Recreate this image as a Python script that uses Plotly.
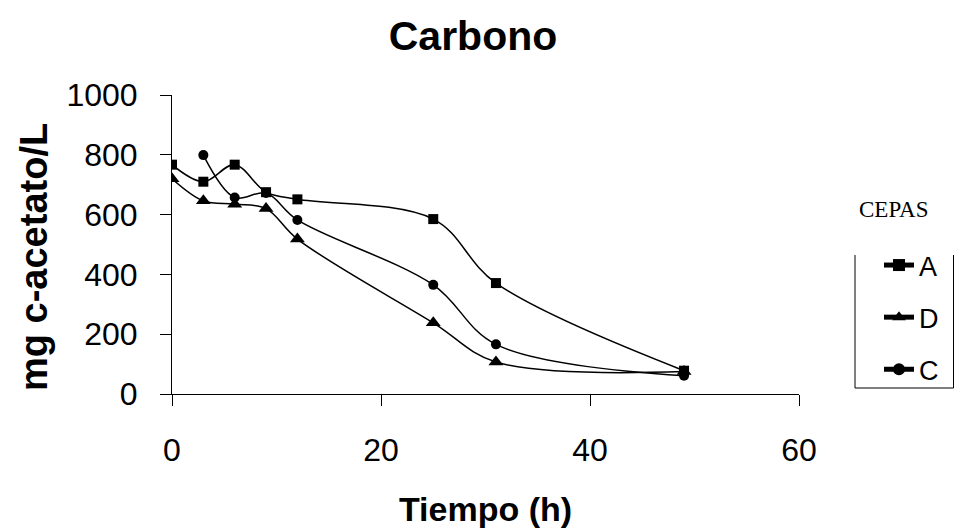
import plotly.graph_objects as go

tiempo = [0, 3, 6, 9, 12, 25, 31, 49]
cepa_a = [767, 710, 767, 675, 651, 585, 371, 78]
cepa_d = [720, 646, 635, 620, 518, 238, 107, 75]
tiempo_c = [3, 6, 9, 12, 25, 31, 49]
cepa_c = [799, 657, 672, 582, 365, 166, 61]

x_ticks = [0, 20, 40, 60]
y_ticks = [0, 200, 400, 600, 800, 1000]

# plot area in pixels
L, R, T, B = 172, 799, 95, 394
PW, PH = R - L, B - T


def px(xp):
    return (xp - L) / PW


def py(yp):
    return (B - yp) / PH


fig = go.Figure()
series = [
    ("A", tiempo, cepa_a, "square", 10),
    ("D", tiempo, cepa_d, "triangle-up", 13),
    ("C", tiempo_c, cepa_c, "circle", 10),
]
for name, xs, ys, sym, sz in series:
    fig.add_trace(go.Scatter(
        x=xs, y=ys, name=name, mode="lines+markers",
        line=dict(color="black", width=1.5, shape="spline", smoothing=1.0),
        marker=dict(symbol=sym, size=sz, color="black"),
        legendgroup=name,
    ))

fig.update_layout(
    width=955, height=529,
    margin=dict(l=L, r=955 - R, t=T, b=529 - B, autoexpand=False),
    paper_bgcolor="white", plot_bgcolor="white",
    font=dict(family="Arial, Liberation Sans", color="black"),
    title=dict(text="<b>Carbono</b>", x=473 / 955, xanchor="center",
               y=1 - 36 / 529, yanchor="middle", font=dict(size=41)),
    showlegend=True,
    legend=dict(x=px(879), xanchor="left", y=py(241), yanchor="top",
                font=dict(size=27), traceorder="grouped", tracegroupgap=14,
                itemsizing="constant", bgcolor="rgba(0,0,0,0)", borderwidth=0),
    xaxis=dict(range=[0, 60], tickvals=x_ticks, showline=True, linecolor="black",
               linewidth=1, ticks="outside", ticklen=11, tickcolor="black",
               showgrid=False, zeroline=False, tickfont=dict(size=32),
               ticklabelstandoff=17, automargin=False,
               title=dict(text="<b>Tiempo (h)</b>", font=dict(size=34), standoff=29)),
    yaxis=dict(range=[0, 1000], tickvals=y_ticks, showline=True, linecolor="black",
               linewidth=1, ticks="outside", ticklen=11, tickcolor="black",
               showgrid=False, zeroline=False, tickfont=dict(size=32),
               ticklabelstandoff=16, automargin=False),
    annotations=[
        dict(text="<b>mg c-acetato/L</b>", xref="paper", yref="paper",
             x=px(34), y=py(257), xanchor="center", yanchor="middle",
             textangle=-90, showarrow=False, font=dict(size=38)),
        dict(text="CEPAS", xref="paper", yref="paper",
             x=px(893), y=py(209), xanchor="center", yanchor="middle",
             showarrow=False,
             font=dict(family="Liberation Serif, Times New Roman", size=23)),
    ],
    shapes=[
        dict(type="line", xref="paper", yref="paper",
             x0=px(855), x1=px(855), y0=py(255), y1=py(388),
             line=dict(color="black", width=1)),
        dict(type="line", xref="paper", yref="paper",
             x0=px(953.5), x1=px(953.5), y0=py(255), y1=py(388),
             line=dict(color="black", width=1)),
        dict(type="line", xref="paper", yref="paper",
             x0=px(855), x1=px(953.5), y0=py(388), y1=py(388),
             line=dict(color="black", width=1)),
    ],
)

fig.write_html("out.html")
